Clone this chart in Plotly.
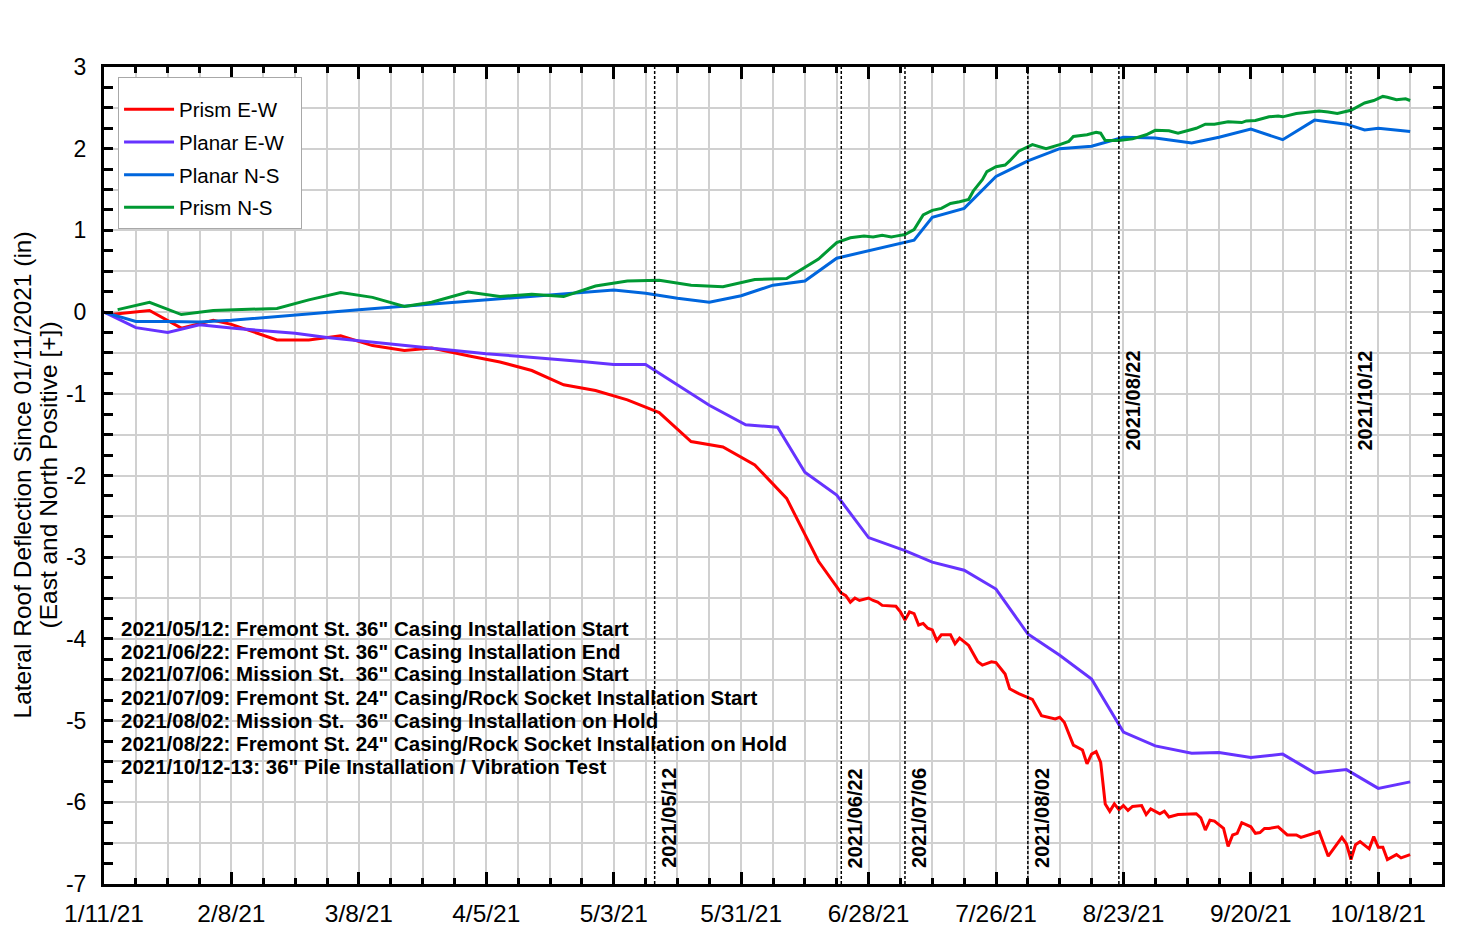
import numpy as np
import pandas as pd
import plotly.graph_objects as go

START = pd.Timestamp("2021-01-11")

# days since 01/11/2021 and deflection (in)
prism_ew_day = [0, 2, 10, 17, 24, 28, 38, 45, 52, 59, 66, 72, 80, 87, 94, 101, 108, 115, 122, 129,
                136, 143, 150, 157, 162, 163, 164, 165, 166, 168, 169, 170, 171, 174, 175, 176, 177,
                178, 179, 180, 181, 182, 183, 184, 186, 187, 188, 190, 192, 193, 195, 196, 198, 199,
                201, 203, 204, 206, 209, 210, 211, 213, 215, 216, 217, 218, 219, 220, 221, 222, 223,
                224, 225, 226, 228, 229, 230, 232, 233, 234, 236, 240, 241, 242, 243, 244, 246, 247,
                248, 249, 250, 252, 253, 254, 255, 256, 258, 260, 262, 263, 267, 269, 272, 273, 274,
                275, 276, 278, 279, 280, 281, 282, 284, 285, 287]
prism_ew = [0, -0.025, 0.02, -0.196, -0.10, -0.15, -0.34, -0.34, -0.29, -0.41, -0.47, -0.44, -0.535,
            -0.61, -0.715, -0.89, -0.96, -1.075, -1.23, -1.585, -1.65, -1.87, -2.28, -3.05, -3.44,
            -3.47, -3.55, -3.50, -3.53, -3.50, -3.53, -3.55, -3.59, -3.60, -3.67, -3.77, -3.67, -3.69,
            -3.83, -3.81, -3.87, -3.89, -4.02, -3.95, -3.95, -4.06, -3.99, -4.08, -4.28, -4.32, -4.28,
            -4.29, -4.43, -4.61, -4.67, -4.72, -4.74, -4.94, -4.98, -4.96, -5.02, -5.30, -5.36, -5.53,
            -5.41, -5.38, -5.51, -6.02, -6.11, -6.02, -6.09, -6.04, -6.10, -6.05, -6.04, -6.15, -6.08,
            -6.14, -6.11, -6.18, -6.15, -6.14, -6.19, -6.34, -6.22, -6.23, -6.32, -6.54, -6.40, -6.38,
            -6.25, -6.30, -6.38, -6.37, -6.32, -6.32, -6.30, -6.40, -6.40, -6.43, -6.36, -6.66, -6.43,
            -6.51, -6.70, -6.52, -6.48, -6.57, -6.42, -6.55, -6.55, -6.70, -6.64, -6.68, -6.64]

planar_ew_day = [0, 7, 14, 21, 28, 35, 42, 49, 56, 63, 70, 77, 84, 91, 98, 105, 112, 119, 133, 141,
                 148, 154, 161, 168, 176, 182, 189, 196, 203, 210, 217, 224, 231, 239, 245, 252, 259,
                 266, 273, 280, 287]
planar_ew = [0, -0.19, -0.25, -0.155, -0.196, -0.23, -0.26, -0.31, -0.35, -0.39, -0.43, -0.47, -0.51,
             -0.54, -0.57, -0.605, -0.64, -0.64, -1.14, -1.38, -1.41, -1.96, -2.24, -2.76, -2.92,
             -3.06, -3.16, -3.39, -3.94, -4.20, -4.49, -5.14, -5.31, -5.40, -5.39, -5.45, -5.41,
             -5.64, -5.60, -5.83, -5.75]

planar_ns_day = [0, 7, 14, 21, 28, 35, 42, 49, 56, 63, 70, 77, 84, 91, 98, 105, 112, 119, 126, 133,
                 140, 147, 154, 161, 168, 176, 178, 182, 189, 196, 203, 210, 217, 224, 231, 239, 245,
                 252, 259, 266, 273, 277, 280, 287]
planar_ns = [0, -0.115, -0.115, -0.12, -0.10, -0.066, -0.033, 0.0, 0.028, 0.06, 0.09, 0.12, 0.15,
             0.18, 0.21, 0.24, 0.27, 0.23, 0.17, 0.12, 0.20, 0.33, 0.38, 0.66, 0.75, 0.86, 0.88, 1.16,
             1.27, 1.66, 1.85, 2.0, 2.03, 2.14, 2.13, 2.07, 2.14, 2.24, 2.11, 2.35, 2.30, 2.23, 2.25,
             2.21]

prism_ns_day = [3, 10, 17, 24, 38, 45, 52, 59, 66, 72, 80, 87, 94, 101, 108, 115, 122, 129, 136, 143,
                150, 157, 161, 164, 167, 169, 171, 173, 174, 176, 178, 180, 182, 184, 186, 188, 190,
                191, 193, 194, 196, 198, 199, 201, 204, 207, 210, 212, 213, 216, 218, 219, 220, 223,
                226, 229, 231, 234, 236, 240, 242, 244, 247, 250, 251, 253, 256, 258, 259, 262, 267,
                269, 271, 274, 277, 279, 281, 282, 284, 286, 287]
prism_ns = [0.03, 0.12, -0.03, 0.02, 0.045, 0.15, 0.24, 0.18, 0.07, 0.12, 0.245, 0.19, 0.22, 0.19,
            0.32, 0.38, 0.39, 0.33, 0.31, 0.40, 0.41, 0.65, 0.85, 0.91, 0.93, 0.92, 0.94, 0.92, 0.93,
            0.95, 1.01, 1.19, 1.245, 1.27, 1.33, 1.35, 1.38, 1.48, 1.62, 1.72, 1.78, 1.80, 1.85, 1.97,
            2.05, 2.0, 2.05, 2.09, 2.15, 2.17, 2.2, 2.19, 2.10, 2.10, 2.12, 2.17, 2.225, 2.22, 2.19,
            2.25, 2.30, 2.30, 2.33, 2.32, 2.34, 2.345, 2.39, 2.40, 2.39, 2.43, 2.46, 2.45, 2.43, 2.47,
            2.56, 2.59, 2.64, 2.63, 2.60, 2.61, 2.59]

event_dates = ["2021-05-12", "2021-06-22", "2021-07-06", "2021-08-02", "2021-08-22", "2021-10-12"]
event_labels = ["2021/05/12", "2021/06/22", "2021/07/06", "2021/08/02", "2021/08/22", "2021/10/12"]
event_label_low = [True, True, True, True, False, False]

notes = [
    "2021/05/12: Fremont St. 36\" Casing Installation Start",
    "2021/06/22: Fremont St. 36\" Casing Installation End",
    "2021/07/06: Mission St.\u00a0\u00a036\" Casing Installation Start",
    "2021/07/09: Fremont St. 24\" Casing/Rock Socket Installation Start",
    "2021/08/02: Mission St.\u00a0\u00a036\" Casing Installation on Hold",
    "2021/08/22: Fremont St. 24\" Casing/Rock Socket Installation on Hold",
    "2021/10/12-13: 36\" Pile Installation / Vibration Test",
]

y_title = ["Lateral Roof Deflection Since 01/11/2021 (in)", "(East and North Positive [+])"]

series = [
    ("Prism E-W", prism_ew_day, prism_ew, "#ff0000"),
    ("Planar E-W", planar_ew_day, planar_ew, "#6633ff"),
    ("Planar N-S", planar_ns_day, planar_ns, "#0066dd"),
    ("Prism N-S", prism_ns_day, prism_ns, "#009933"),
]


def to_dates(days):
    return START + pd.to_timedelta(days, unit="D")


FONT = "Liberation Sans, Arial, sans-serif"
DAY = 86400000
GRID = "#d0d0d0"

fig = go.Figure()
for name, days, vals, color in series:
    label = name + "\u00a0\u00a0" if name == "Planar E-W" else name
    fig.add_trace(go.Scatter(x=to_dates(days), y=vals, mode="lines", name=label, legendgroup=name,
                             line=dict(color=color, width=3)))

# event markers
for d, lab, low in zip(event_dates, event_labels, event_label_low):
    fig.add_shape(type="line", x0=d, x1=d, xref="x", y0=0, y1=1, yref="paper",
                  line=dict(color="black", width=1.5, dash="3px,2px"))
    fig.add_annotation(x=d, y=-6.83 if low else -1.72, xref="x", yref="y", text=lab, textangle=-90,
                       showarrow=False, xanchor="center", yanchor="bottom", xshift=14,
                       font=dict(family=FONT, size=20, color="black", weight="bold"))

for i, txt in enumerate(notes):
    py = 628 + 23 * i
    fig.add_annotation(x=0.0112, y=(884 - py) / 817, xref="paper", yref="paper", text=txt,
                       showarrow=False, xanchor="left", yanchor="middle",
                       font=dict(family=FONT, size=20.5, color="black", weight="bold"))

for px_x, txt in zip([22, 48], y_title):
    fig.add_annotation(x=(px_x - 104) / 1338, y=0.5, xref="paper", yref="paper", textangle=-90,
                       showarrow=False, xanchor="center", yanchor="middle", text=txt,
                       font=dict(family=FONT, size=24.5, color="black"))

xrange = ["2021-01-11", "2021-11-01"]
xcommon = dict(type="date", range=xrange, tick0="2021-01-11", dtick=28 * DAY, zeroline=False,
               automargin=False)
fig.update_layout(
    width=1481, height=931,
    margin=dict(l=104, r=39, t=67, b=47),
    paper_bgcolor="white", plot_bgcolor="white",
    font=dict(family=FONT, color="black"),
    xaxis=dict(**xcommon, tickformat="%-m/%-d/%y", ticks="inside", ticklen=12, tickwidth=3,
               tickcolor="black", showline=True, linewidth=3, linecolor="black", mirror="allticks",
               showgrid=True, gridcolor=GRID, gridwidth=2, tickfont=dict(size=24.5),
               ticklabelstandoff=6,
               minor=dict(dtick=7 * DAY, tick0="2021-01-11", ticks="inside", ticklen=6, tickwidth=3,
                          tickcolor="black", showgrid=True, gridcolor=GRID, gridwidth=2)),
    xaxis2=dict(**xcommon, overlaying="x", anchor="free", position=0.6853, side="bottom",
                showline=True, linewidth=3, linecolor="black", showgrid=False,
                showticklabels=False, ticks="outside", ticklen=5, tickwidth=3, tickcolor="black",
                minor=dict(dtick=7 * DAY, tick0="2021-01-11", ticks="outside", ticklen=3,
                           tickwidth=3, tickcolor="black")),
    xaxis3=dict(**xcommon, overlaying="x", anchor="free", position=0.6853, side="bottom",
                showline=False, showgrid=False, showticklabels=False, ticks="inside", ticklen=5,
                tickwidth=3, tickcolor="black",
                minor=dict(dtick=7 * DAY, tick0="2021-01-11", ticks="inside", ticklen=3,
                           tickwidth=3, tickcolor="black")),
    yaxis=dict(range=[-7, 3], tickmode="array", tickvals=np.arange(-7, 3.01, 0.5),
               ticktext=[f"{v:.0f}" if v == int(v) else "" for v in np.arange(-7, 3.01, 0.5)],
               ticks="inside", ticklen=9, tickwidth=3, tickcolor="black", showline=True,
               linewidth=3, linecolor="black", mirror="allticks", showgrid=True, gridcolor=GRID,
               gridwidth=2, zeroline=False, automargin=False, tickfont=dict(size=23),
               ticklabelstandoff=10,
               minor=dict(dtick=0.25, tick0=0, ticks="inside", ticklen=9, tickwidth=3,
                          tickcolor="black", showgrid=False)),
    legend=dict(x=0.0105, y=0.988, xanchor="left", yanchor="top", bgcolor="white",
                bordercolor="#a8a8a8", borderwidth=1, font=dict(size=20.5), tracegroupgap=3,
                itemwidth=50, title=dict(text="\u00a0", font=dict(size=9))),
)

fig.write_html("out.html", config={"displayModeBar": False},
               post_script="document.body.style.margin='0';")
